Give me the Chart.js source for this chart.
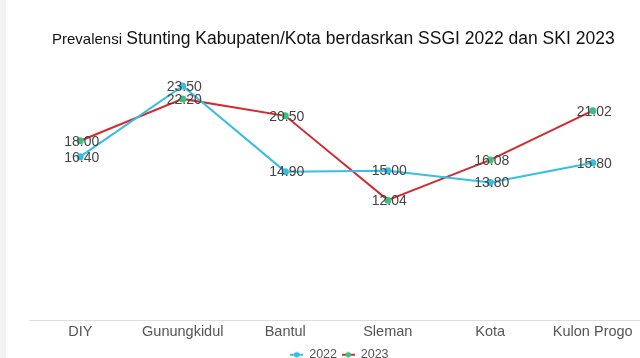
<!DOCTYPE html>
<html><head><meta charset="utf-8">
<script src="https://cdn.jsdelivr.net/npm/chart.js@4/dist/chart.umd.min.js"></script>
<style>
html,body{margin:0;padding:0;background:#fff;overflow:hidden;width:640px;height:358px;}
#wrap{position:relative;width:650px;height:371px;}
#strip{position:absolute;left:0;top:0;width:6px;height:358px;background:#f2f2f2;z-index:2}
#title{position:absolute;left:52px;top:28px;font-family:"Liberation Sans",Arial,sans-serif;color:#111;white-space:nowrap;z-index:2}
#title .s{font-size:15px}
#title .b{font-size:17.5px}
canvas{position:absolute;left:0;top:0}
</style></head>
<body>
<div id="wrap">
<div id="strip"></div>
<div id="title"><span class="s">Prevalensi </span><span class="b">Stunting Kabupaten/Kota berdasrkan SSGI 2022 dan SKI 2023</span></div>
<canvas id="c" width="650" height="371"></canvas>
</div>
<script>
const categories = ["DIY", "Gunungkidul", "Bantul", "Sleman", "Kota", "Kulon Progo"];
const values2022 = [16.40, 23.50, 14.90, 15.00, 13.80, 15.80];
const values2023 = [18.00, 22.20, 20.50, 12.04, 16.08, 21.02];
const seriesNames = ["2022", "2023"];

const cyan = "#35bfe0";
const red = "#d22a2f";
const green = "#3fbf7f";

function legendIcon(lineColor, dotColor){
  const c = document.createElement("canvas");
  c.width = 13; c.height = 8;
  const x = c.getContext("2d");
  x.strokeStyle = lineColor; x.lineWidth = 2;
  x.beginPath(); x.moveTo(0,4); x.lineTo(13,4); x.stroke();
  x.fillStyle = dotColor;
  x.beginPath(); x.arc(6.5,4,2.8,0,Math.PI*2); x.fill();
  return c;
}
const icons = [legendIcon(cyan, cyan), legendIcon(red, green)];

const labelPlugin = {
  id: "vlabels",
  afterDatasetsDraw(chart){
    const ctx = chart.ctx;
    ctx.save();
    ctx.font = "14px 'Liberation Sans', Arial, sans-serif";
    ctx.fillStyle = "#444";
    ctx.textAlign = "center";
    ctx.textBaseline = "middle";
    chart.data.datasets.forEach((ds, i) => {
      const meta = chart.getDatasetMeta(i);
      meta.data.forEach((pt, j) => {
        ctx.fillText(ds.data[j].toFixed(2), pt.x + 1.5, pt.y + 1);
      });
    });
    ctx.restore();
  }
};

new Chart(document.getElementById("c"), {
  type: "line",
  data: {
    labels: categories,
    datasets: [
      {label: seriesNames[0], data: values2022, borderColor: cyan, backgroundColor: cyan,
       pointBackgroundColor: cyan, pointBorderColor: cyan, pointRadius: 2.5, borderWidth: 2, tension: 0},
      {label: seriesNames[1], data: values2023, borderColor: red, backgroundColor: red,
       pointBackgroundColor: green, pointBorderColor: green, pointRadius: 2.5, borderWidth: 2, tension: 0}
    ]
  },
  options: {
    responsive: false,
    animation: false,
    layout: {padding: {top: 71, left: 29, right: 0, bottom: 0}},
    scales: {
      x: {
        offset: true,
        grid: {display: false, drawTicks: false},
        border: {display: true, color: "#dddddd"},
        ticks: {color: "#555", font: {family: "'Liberation Sans', Arial, sans-serif", size: 14.5}, padding: 3, maxRotation: 0}
      },
      y: {display: false, min: 0, max: 25}
    },
    plugins: {
      title: {display: false},
      tooltip: {enabled: false},
      legend: {
        position: "bottom",
        labels: {
          usePointStyle: true,
          boxWidth: 13, boxHeight: 8,
          padding: 5,
          color: "#555",
          font: {family: "'Liberation Sans', Arial, sans-serif", size: 12.5},
          generateLabels(chart){
            return chart.data.datasets.map((ds, i) => ({
              text: ds.label, pointStyle: icons[i], fillStyle: ds.borderColor,
              strokeStyle: ds.borderColor, lineWidth: 0, hidden: false, datasetIndex: i, fontColor: "#555"
            }));
          }
        }
      }
    }
  },
  plugins: [labelPlugin]
});
</script>
</body></html>
